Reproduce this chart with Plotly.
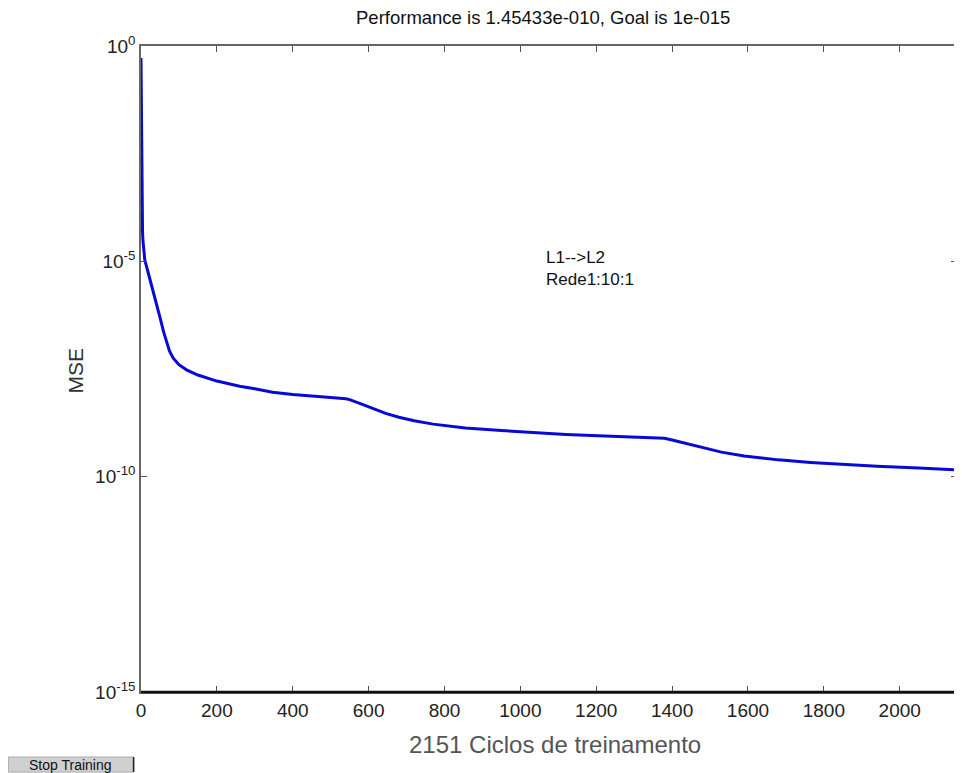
import plotly.graph_objects as go

# Data (epoch, log10 MSE)
epochs = [0, 1, 2, 3, 4, 5, 7, 10, 20, 30, 40, 50, 60, 67, 75, 85, 100, 120, 150, 200,
          260, 300, 347, 400, 435, 500, 540, 550, 580, 610, 645, 680, 720, 770, 855,
          950, 1030, 1120, 1205, 1300, 1380, 1400, 1467, 1530, 1590, 1680, 1765, 1850,
          1940, 2050, 2151]
log_mse = [-0.28, -1.72, -3.2, -3.9, -4.3, -4.5, -4.75, -4.97, -5.3, -5.62, -5.95, -6.3,
           -6.65, -6.88, -7.08, -7.25, -7.40, -7.52, -7.64, -7.78, -7.90, -7.96, -8.04,
           -8.09, -8.12, -8.16, -8.19, -8.21, -8.31, -8.41, -8.53, -8.62, -8.70, -8.78,
           -8.87, -8.93, -8.98, -9.02, -9.05, -9.08, -9.11, -9.15, -9.30, -9.43, -9.52,
           -9.61, -9.67, -9.72, -9.76, -9.80, -9.84]
mse = [10 ** v for v in log_mse]

y_tickvals = [1, 1e-5, 1e-10, 1e-15]
y_ticktext = ["10<sup>0</sup>", "10<sup>-5</sup>", "10<sup>-10</sup>", "10<sup>-15</sup>"]
x_tickvals = [0, 200, 400, 600, 800, 1000, 1200, 1400, 1600, 1800, 2000]

title_text = "Performance is 1.45433e-010, Goal is 1e-015"
xlabel = "2151 Ciclos de treinamento"
ylabel = "MSE"
note_lines = ["L1-->L2", "Rede1:10:1"]
button_text = "Stop Training"

fig = go.Figure()
fig.add_trace(go.Scatter(x=epochs, y=mse, mode="lines",
                         line=dict(color="rgb(8,8,215)", width=3), showlegend=False))

FONT = "Arial, Liberation Sans, sans-serif"
fig.update_layout(
    width=954, height=765,
    margin=dict(l=133, r=3, t=38, b=81),
    paper_bgcolor="white", plot_bgcolor="white",
    font=dict(family=FONT),
    xaxis=dict(range=[0, 2151], tickvals=x_tickvals, ticks="inside", ticklen=6,
               tickcolor="#555", showline=True, linecolor="#666", linewidth=1.5,
               mirror="ticks", showgrid=False, zeroline=False,
               tickfont=dict(family=FONT, size=19, color="#222")),
    yaxis=dict(type="log", range=[-15, 0], tickvals=y_tickvals, ticktext=y_ticktext,
               ticks="inside", ticklen=6, tickcolor="#555", showline=True,
               linecolor="#666", linewidth=1.5, mirror="ticks", showgrid=False,
               zeroline=False, tickfont=dict(family=FONT, size=19, color="#222")),
)

# darker bottom axis line, as in the reference
fig.add_shape(type="line", xref="paper", yref="paper", x0=0, x1=1, y0=0, y1=0,
              line=dict(color="#111", width=2.5), layer="above")

fig.add_annotation(text=title_text, xref="paper", yref="paper", x=0.493, y=1.044,
                   showarrow=False, font=dict(size=18.5, color="#111"),
                   xanchor="center", yanchor="middle")
fig.add_annotation(text=ylabel, xref="paper", yref="paper", x=-0.0807, y=0.498,
                   textangle=-90, showarrow=False, font=dict(size=21, color="#333"),
                   xanchor="center", yanchor="middle")
fig.add_annotation(text=xlabel, xref="paper", yref="paper", x=0.507, y=-0.082,
                   showarrow=False, font=dict(size=24, color="#555"),
                   xanchor="center", yanchor="middle")
fig.add_annotation(text="<br>".join(note_lines), xref="paper", yref="paper",
                   x=0.494, y=0.69, showarrow=False, align="left",
                   font=dict(size=17, color="#111"), xanchor="left", yanchor="top")

# Stop Training button
fig.add_shape(type="rect", xref="paper", yref="paper",
              x0=-0.1626, x1=-0.0098, y0=-0.124, y1=-0.1006,
              fillcolor="#d0d0d0", line=dict(color="#aaa", width=1))
fig.add_shape(type="line", xref="paper", yref="paper",
              x0=-0.009, x1=-0.009, y0=-0.124, y1=-0.1006,
              line=dict(color="#222", width=1.5))
fig.add_annotation(text=button_text, xref="paper", yref="paper",
                   x=-0.087, y=-0.113, showarrow=False,
                   font=dict(size=14, color="#111"), xanchor="center", yanchor="middle")

fig.write_html("out.html")
